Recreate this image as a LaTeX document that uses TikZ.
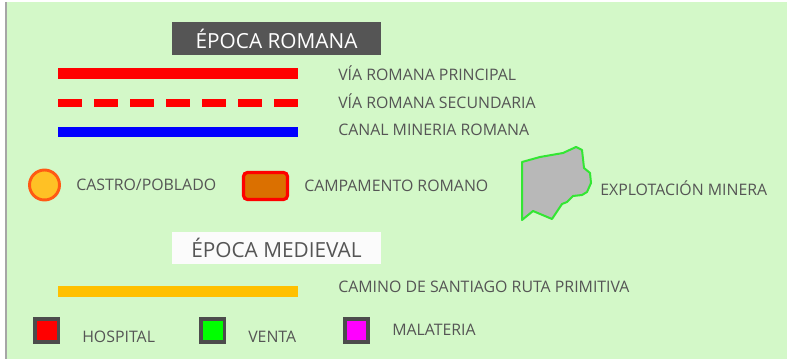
\documentclass[tikz,border=0pt]{standalone}
\usepackage{fontspec}
\setmainfont{Open Sans}
\definecolor{fondo}{HTML}{D3F8C8}
\definecolor{texto}{HTML}{555555}
\definecolor{titulo}{HTML}{555555}
\definecolor{castro}{HTML}{FFC125}
\definecolor{castroborde}{HTML}{FF5A14}
\definecolor{campa}{HTML}{DB7000}
\definecolor{mina}{HTML}{B8B8B8}
\definecolor{minaborde}{HTML}{33E633}
\definecolor{camino}{HTML}{FFC000}
\definecolor{rojo}{HTML}{FF0000}
\definecolor{verde}{HTML}{00FF00}
\definecolor{fucsia}{HTML}{FF00FF}
\definecolor{azul}{HTML}{0000FF}
\tikzset{
  etiqueta/.style={anchor=west, text=texto, font=\fontsize{11.9}{13}\selectfont, inner sep=0pt},
  via/.style={line width=8pt},
  simbolo/.style={draw=texto!90!black, line width=2.6pt}
}
\begin{document}
\begin{tikzpicture}[x=0.75pt, y=-0.75pt]
			\useasboundingbox (0,0) rectangle (787,359);
			\fill[white] (0,0) rectangle (787,359);
			\fill[fondo] (6,2) rectangle (787,359);
			\draw[gray!70, line width=0.8pt] (6,2) -- (6,359);
			
			% epoca romana
			\node[fill=titulo, text=white, minimum width=157pt, minimum height=24.5pt, inner sep=0pt,
			      font=\fontsize{15.6}{17}\selectfont] (romana) at (276.5,38.5) {ÉPOCA ROMANA};
			
			\draw[rojo, via] (58,73.5) -- (298,73.5);
			\node[etiqueta] (principal) at (338,73) {VÍA ROMANA PRINCIPAL};
			\draw[rojo, line width=6pt, dash pattern=on 18pt off 9pt] (58,103) -- (298,103);
			\node[etiqueta] (secundaria) at (338,101) {VÍA ROMANA SECUNDARIA};
			\draw[azul, via] (58,132) -- (298,132);
			\node[etiqueta] (canal) at (338,130) {CANAL MINERIA ROMANA};
			
			\draw[castroborde, fill=castro, line width=2.2pt] (44.5,185) circle (15);
			\node[etiqueta] (castrolab) at (76,185) {CASTRO/POBLADO};
			\draw[rojo, fill=campa, line width=2.4pt, rounded corners=3pt] (243.5,172.5) rectangle (287.5,199.5);
			\node[etiqueta] (campalab) at (304,186) {CAMPAMENTO ROMANO};
			\draw[minaborde, fill=mina, line width=1.5pt, line join=round]
			  (522,162) -- (540,157) -- (563,153) -- (576,147) -- (582,150) -- (584,168)
			  -- (590,173) -- (591,183) -- (587,192) -- (582,195) -- (573,196) -- (567,202)
			  -- (562,204) -- (552,219) -- (533,211) -- (522,220) -- cycle;
			\node[etiqueta] (minalab) at (600,188) {EXPLOTACIÓN MINERA};
			
			% epoca medieval
			\node[fill=white!97!gray, text=texto, minimum width=157pt, minimum height=24pt, inner sep=0pt,
			      font=\fontsize{15.6}{17}\selectfont] (medieval) at (276.5,248) {ÉPOCA MEDIEVAL};
			
			\draw[camino, via] (58,291.5) -- (298,291.5);
			\node[etiqueta] (caminolab) at (338,287) {CAMINO DE SANTIAGO RUTA PRIMITIVA};
			
			\draw[simbolo, fill=rojo] (35,319) rectangle (58.5,342);
			\node[etiqueta] (hospital) at (82,337) {HOSPITAL};
			\draw[simbolo, fill=verde] (201,319) rectangle (224.5,342);
			\node[etiqueta] (venta) at (248,337) {VENTA};
			\draw[simbolo, fill=fucsia] (345,319) rectangle (368,342);
			\node[etiqueta] (malateria) at (392,330) {MALATERIA};
		\end{tikzpicture}
\end{document}
